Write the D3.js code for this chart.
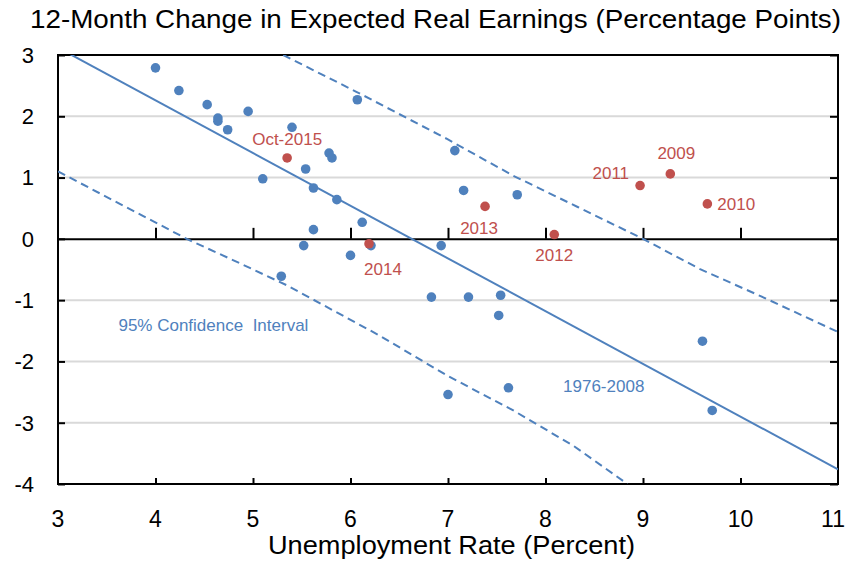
<!DOCTYPE html>
<html lang="en">
<head>
    <meta charset="UTF-8">
    <title>Expected Real Earnings vs Unemployment</title>
    <script src="https://cdn.jsdelivr.net/npm/d3@7"></script>
    <style>
        body { margin: 0; background: #fff; }
        text { font-family: "Liberation Sans", Arial, sans-serif; }
    </style>
</head>
<body>

<script>

    // 1976-2008 observations
    var blueX = [4.00, 4.24, 4.53, 4.64, 4.64, 4.74, 4.95, 5.10, 5.40, 6.07,
                 5.78, 5.81, 5.54, 5.62, 5.86, 6.12, 5.62, 7.07, 7.16, 7.71,
                 5.52, 6.00, 6.21, 6.93, 5.29, 6.83, 7.21, 7.54, 7.52, 7.00,
                 7.62, 9.61, 9.71];
    var blueY = [2.79, 2.42, 2.19, 1.97, 1.92, 1.78, 2.08, 0.98, 1.82, 2.27,
                 1.40, 1.32, 1.14, 0.83, 0.64, 0.27, 0.15, 1.44, 0.79, 0.72,
                 -0.11, -0.27, -0.11, -0.11, -0.61, -0.95, -0.95, -0.92, -1.25, -2.54,
                 -2.43, -1.67, -2.80];

    // recent years
    var redLabels = ["Oct-2015", "2013", "2012", "2014", "2011", "2009", "2010"];
    var redX = [5.35, 7.38, 8.09, 6.19, 8.97, 9.28, 9.66];
    var redY = [1.32, 0.53, 0.07, -0.08, 0.87, 1.06, 0.57];

    // fitted line and 95% band
    var fitX = [3, 11];
    var fitY = [3.12, -3.76];
    var upperX = [5.31, 6.06, 6.99, 7.67, 8.33, 9.00, 9.58, 10.2, 11.0];
    var upperY = [3.00, 2.40, 1.63, 1.03, 0.52, 0.00, -0.49, -0.93, -1.52];
    var lowerX = [3.00, 4.32, 4.80, 5.35, 6.30, 6.99, 7.67, 8.29, 8.84];
    var lowerY = [1.10, 0.00, -0.35, -0.76, -1.58, -2.23, -2.80, -3.38, -4.00];

    var xTicks = [3, 4, 5, 6, 7, 8, 9, 10, 11];
    var yTicks = [3, 2, 1, 0, -1, -2, -3, -4];

    var blue = "#4f81bd";
    var red = "#c0504d";

    var width = 848;
    var height = 562;
    var margin = {top: 55, right: 10, bottom: 78, left: 58};

    var svg = d3.select("body").append("svg")
        .attr("width", width)
        .attr("height", height);

    var xScale = d3.scaleLinear()
        .domain([3, 11])
        .range([margin.left, width - margin.right]);
    var yScale = d3.scaleLinear()
        .domain([-4, 3])
        .range([height - margin.bottom, margin.top]);

    svg.append("clipPath").attr("id", "plot-clip")
        .append("rect")
        .attr("x", xScale(3))
        .attr("y", yScale(3))
        .attr("width", xScale(11) - xScale(3))
        .attr("height", yScale(-4) - yScale(3));

    // gridlines
    svg.append("g")
        .selectAll("line")
        .data(yTicks.filter(function (d) { return d !== 0 && d !== 3 && d !== -4; }))
        .join("line")
        .attr("x1", xScale(3))
        .attr("x2", xScale(11))
        .attr("y1", function (d) { return yScale(d); })
        .attr("y2", function (d) { return yScale(d); })
        .attr("stroke", "#d9d9d9")
        .attr("stroke-width", 2);

    // frame
    svg.append("rect")
        .attr("x", xScale(3))
        .attr("y", yScale(3))
        .attr("width", xScale(11) - xScale(3))
        .attr("height", yScale(-4) - yScale(3))
        .attr("fill", "none")
        .attr("stroke", "black")
        .attr("stroke-width", 2);

    // left and right axes, ticks pointing inward
    svg.append("g")
        .attr("transform", "translate(" + xScale(3) + ",0)")
        .call(d3.axisRight(yScale).tickValues(yTicks).tickSize(7).tickFormat(""))
        .call(function (g) { g.select(".domain").remove(); })
        .call(function (g) { g.selectAll("line").attr("stroke-width", 2); });
    svg.append("g")
        .attr("transform", "translate(" + xScale(11) + ",0)")
        .call(d3.axisLeft(yScale).tickValues(yTicks).tickSize(8).tickFormat(""))
        .call(function (g) { g.select(".domain").remove(); })
        .call(function (g) { g.selectAll("line").attr("stroke-width", 2); });

    // y tick labels
    svg.append("g")
        .selectAll("text")
        .data(yTicks)
        .join("text")
        .attr("x", 34)
        .attr("y", function (d) { return yScale(d); })
        .attr("dy", "0.36em")
        .attr("text-anchor", "end")
        .attr("font-size", "22px")
        .text(function (d) { return d; });

    // zero line with ticks up
    svg.append("g")
        .attr("transform", "translate(0," + yScale(0) + ")")
        .call(d3.axisTop(xScale).tickValues(xTicks.slice(1, -1)).tickSize(11).tickFormat("").tickSizeOuter(0))
        .call(function (g) { g.selectAll("line, path").attr("stroke-width", 2); });

    // bottom axis, ticks up, labels below
    svg.append("g")
        .attr("transform", "translate(0," + yScale(-4) + ")")
        .call(d3.axisTop(xScale).tickValues(xTicks.slice(1, -1)).tickSize(6).tickFormat("").tickSizeOuter(0))
        .call(function (g) { g.select(".domain").remove(); })
        .call(function (g) { g.selectAll("line").attr("stroke-width", 2); });

    // the last label is nudged in so it stays inside the page
    svg.append("g")
        .selectAll("text")
        .data(xTicks)
        .join("text")
        .attr("x", function (d) { return Math.min(xScale(d), width - 15); })
        .attr("y", 527)
        .attr("text-anchor", "middle")
        .attr("font-size", "23px")
        .text(function (d) { return d; });

    // titles
    svg.append("text")
        .attr("x", 30)
        .attr("y", 28)
        .attr("font-size", "25px")
        .attr("textLength", 811)
        .attr("lengthAdjust", "spacingAndGlyphs")
        .text("12-Month Change in Expected Real Earnings (Percentage Points)");

    svg.append("text")
        .attr("x", 268)
        .attr("y", 554)
        .attr("font-size", "26px")
        .attr("textLength", 367)
        .attr("lengthAdjust", "spacingAndGlyphs")
        .text("Unemployment Rate (Percent)");

    // lines
    var plot = svg.append("g").attr("clip-path", "url(#plot-clip)");

    var line = d3.line()
        .x(function (d) { return xScale(d[0]); })
        .y(function (d) { return yScale(d[1]); });

    plot.append("path")
        .datum(d3.zip(fitX, fitY))
        .attr("fill", "none")
        .attr("stroke", blue)
        .attr("stroke-width", 2)
        .attr("d", line);

    [d3.zip(upperX, upperY), d3.zip(lowerX, lowerY)].forEach(function (band) {
        plot.append("path")
            .datum(band)
            .attr("fill", "none")
            .attr("stroke", blue)
            .attr("stroke-width", 2)
            .attr("stroke-dasharray", "8,5")
            .attr("d", line);
    });

    // points
    svg.append("g")
        .selectAll("circle")
        .data(d3.zip(blueX, blueY))
        .join("circle")
        .attr("cx", function (d) { return xScale(d[0]); })
        .attr("cy", function (d) { return yScale(d[1]); })
        .attr("r", 4.8)
        .attr("fill", blue);

    svg.append("g")
        .selectAll("circle")
        .data(d3.zip(redX, redY))
        .join("circle")
        .attr("cx", function (d) { return xScale(d[0]); })
        .attr("cy", function (d) { return yScale(d[1]); })
        .attr("r", 4.8)
        .attr("fill", red);

    // label placement relative to each red point: [dx, dy, anchor]
    var labelOffsets = [[0, -13, "middle"], [-6, 28, "middle"], [0, 26, "middle"],
                        [14, 31, "middle"], [-11, -7, "end"], [6, -15, "middle"], [10, 6, "start"]];

    svg.append("g")
        .selectAll("text")
        .data(redLabels)
        .join("text")
        .attr("x", function (d, i) { return xScale(redX[i]) + labelOffsets[i][0]; })
        .attr("y", function (d, i) { return yScale(redY[i]) + labelOffsets[i][1]; })
        .attr("text-anchor", function (d, i) { return labelOffsets[i][2]; })
        .attr("font-size", "17px")
        .attr("fill", red)
        .text(function (d) { return d; });

    svg.append("text")
        .attr("x", xScale(3.62))
        .attr("y", yScale(-1.5))
        .attr("font-size", "17px")
        .attr("fill", blue)
        .style("white-space", "pre")
        .text("95% Confidence  Interval");

    svg.append("text")
        .attr("x", xScale(8.18))
        .attr("y", yScale(-2.5))
        .attr("font-size", "17px")
        .attr("fill", blue)
        .text("1976-2008");

</script>

</body>
</html>
